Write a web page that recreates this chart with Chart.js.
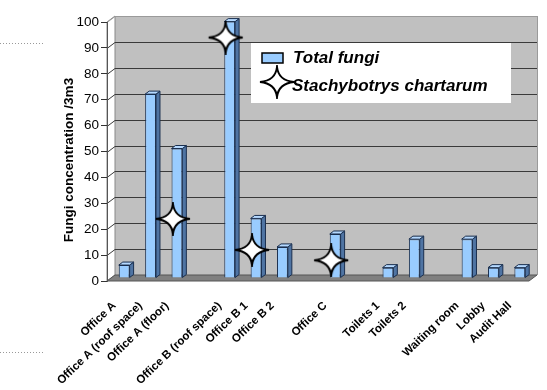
<!DOCTYPE html>
<html>
<head>
<meta charset="utf-8">
<script src="https://cdn.jsdelivr.net/npm/chart.js@4.4.0/dist/chart.umd.min.js"></script>
<style>
html, body { margin: 0; padding: 0; background: #fff; }
#wrap { position: relative; width: 547px; height: 390px; }
</style>
</head>
<body>
<div id="wrap"><canvas id="fungiChart"></canvas></div>
<script>
// sample points (blank entries are the gaps between buildings)
const locations = ['Office A', 'Office A (roof space)', 'Office A (floor)', '',
    'Office B (roof space)', 'Office B 1', 'Office B 2', '', 'Office C', '',
    'Toilets 1', 'Toilets 2', '', 'Waiting room', 'Lobby', 'Audit Hall'];
const totalFungi = [5, 71, 50, null, 99, 23, 12, null, 17, null, 4, 15, null, 15, 4, 4];
const stachybotrys = [null, null, 24, null, 94, 12, null, null, 8, null, null, null, null, null, null, null];
const yTicks = [0, 10, 20, 30, 40, 50, 60, 70, 80, 90, 100];
const seriesNames = ['Total fungi', 'Stachybotrys chartarum'];
const yTitle = 'Fungi concentration /3m3';

// 3D look
const WALL_DX = 8, WALL_DY = 6;   // back wall offset from front plane
const BAR_DX = 4, BAR_DY = 3;     // bars sit half way back
const FACE = 4;                    // bar depth

const FONT = '"Liberation Sans", Arial, sans-serif';

function makeStar(w, h) {
    const c = document.createElement('canvas');
    c.width = w; c.height = h;
    const g = c.getContext('2d');
    const cx = w / 2, cy = h / 2, rx = w / 2 - 2, ry = h / 2 - 2, k = 1.5;
    g.beginPath();
    g.moveTo(cx, cy - ry);
    g.quadraticCurveTo(cx + k, cy - k, cx + rx, cy);
    g.quadraticCurveTo(cx + k, cy + k, cx, cy + ry);
    g.quadraticCurveTo(cx - k, cy + k, cx - rx, cy);
    g.quadraticCurveTo(cx - k, cy - k, cx, cy - ry);
    g.closePath();
    g.fillStyle = '#fff';
    g.fill();
    g.lineWidth = 2;
    g.strokeStyle = '#000';
    g.stroke();
    return c;
}
const starImg = makeStar(38, 34);

// walls, floor and gridlines
const roomPlugin = {
    id: 'room',
    beforeDraw(chart) {
        const { ctx, chartArea: a, scales } = chart;
        const y = scales.y;
        ctx.save();
        // stray dotted lines at the left
        ctx.strokeStyle = '#999';
        ctx.lineWidth = 1;
        ctx.setLineDash([1, 2]);
        ctx.beginPath();
        ctx.moveTo(0, 43.5); ctx.lineTo(45, 43.5);
        ctx.moveTo(0, 352.5); ctx.lineTo(45, 352.5);
        ctx.stroke();
        ctx.setLineDash([]);

        // back wall
        ctx.fillStyle = '#c0c0c0';
        ctx.fillRect(a.left + WALL_DX, a.top - WALL_DY, a.right - a.left, a.bottom - a.top);
        // left side wall
        ctx.fillStyle = '#fff';
        ctx.beginPath();
        ctx.moveTo(a.left, a.top);
        ctx.lineTo(a.left + WALL_DX, a.top - WALL_DY);
        ctx.lineTo(a.left + WALL_DX, a.bottom - WALL_DY);
        ctx.lineTo(a.left, a.bottom);
        ctx.closePath();
        ctx.fill();
        ctx.strokeStyle = '#888';
        ctx.stroke();
        // floor
        ctx.fillStyle = '#808080';
        ctx.beginPath();
        ctx.moveTo(a.left, a.bottom);
        ctx.lineTo(a.left + WALL_DX, a.bottom - WALL_DY);
        ctx.lineTo(a.right + WALL_DX, a.bottom - WALL_DY);
        ctx.lineTo(a.right, a.bottom);
        ctx.closePath();
        ctx.fill();
        ctx.strokeStyle = '#555';
        ctx.stroke();

        // gridlines on the back wall
        yTicks.forEach(v => {
            if (v === 0) return;
            const py = Math.round(y.getPixelForValue(v)) + 0.5;
            ctx.strokeStyle = v === 100 ? '#9a9a9a' : '#3a3a3a';
            ctx.beginPath();
            ctx.moveTo(a.left, py);
            ctx.lineTo(a.left + WALL_DX, py - WALL_DY);
            ctx.lineTo(a.right + WALL_DX, py - WALL_DY);
            ctx.stroke();
        });
        // right edge of wall
        ctx.strokeStyle = '#9a9a9a';
        ctx.beginPath();
        ctx.moveTo(a.right + WALL_DX + 0.5, a.top - WALL_DY);
        ctx.lineTo(a.right + WALL_DX + 0.5, a.bottom - WALL_DY);
        ctx.stroke();

        // y axis title
        ctx.fillStyle = '#000';
        ctx.font = 'bold 13.5px ' + FONT;
        ctx.textAlign = 'center';
        ctx.textBaseline = 'middle';
        ctx.translate(69, 160);
        ctx.rotate(-Math.PI / 2);
        ctx.fillText(yTitle, 0, 0);
        ctx.restore();
    },
    beforeDatasetDraw(chart, args) {
        if (args.index !== 0) return;
        chart.ctx.save();
        chart.ctx.translate(BAR_DX, -BAR_DY);
    },
    afterDatasetDraw(chart, args) {
        if (args.index !== 0) return;
        const ctx = chart.ctx;
        args.meta.data.forEach((bar, i) => {
            if (totalFungi[i] == null) return;
            const { x, y, base, width } = bar.getProps(['x', 'y', 'base', 'width'], true);
            const l = x - width / 2, r = x + width / 2;
            ctx.lineWidth = 1;
            ctx.strokeStyle = '#1a2f4f';
            // side
            ctx.fillStyle = '#4f74a3';
            ctx.beginPath();
            ctx.moveTo(r, y);
            ctx.lineTo(r + FACE, y - FACE + 1);
            ctx.lineTo(r + FACE, base - FACE + 1);
            ctx.lineTo(r, base);
            ctx.closePath();
            ctx.fill();
            ctx.stroke();
            // top
            ctx.fillStyle = '#b5d9ff';
            ctx.beginPath();
            ctx.moveTo(l, y);
            ctx.lineTo(l + FACE, y - FACE + 1);
            ctx.lineTo(r + FACE, y - FACE + 1);
            ctx.lineTo(r, y);
            ctx.closePath();
            ctx.fill();
            ctx.stroke();
        });
        ctx.restore();
    },
    afterDatasetsDraw(chart) {
        const ctx = chart.ctx;
        ctx.save();
        // legend box
        ctx.fillStyle = '#fff';
        ctx.fillRect(251, 43, 260, 60);
        ctx.fillStyle = '#99ccff';
        ctx.strokeStyle = '#000';
        ctx.lineWidth = 1.5;
        ctx.fillRect(262, 53, 21, 10);
        ctx.strokeRect(262, 53, 21, 10);
        ctx.drawImage(starImg, 277 - 19, 82 - 17);
        ctx.fillStyle = '#000';
        ctx.font = 'italic bold 17px ' + FONT;
        ctx.textAlign = 'left';
        ctx.textBaseline = 'alphabetic';
        ctx.fillText(seriesNames[0], 293, 63);
        ctx.fillText(seriesNames[1], 292, 91);
        ctx.restore();
    }
};

const ctx = document.getElementById('fungiChart').getContext('2d');
new Chart(ctx, {
    type: 'bar',
    data: {
        labels: locations,
        datasets: [{
            label: seriesNames[0],
            data: totalFungi,
            backgroundColor: '#99ccff',
            borderColor: '#1a2f4f',
            borderWidth: 1,
            barPercentage: 1,
            categoryPercentage: 0.41,
            clip: false,
            order: 1
        }, {
            type: 'line',
            label: seriesNames[1],
            data: stachybotrys,
            showLine: false,
            pointStyle: starImg,
            pointRadius: 17,
            clip: false,
            order: 0
        }]
    },
    options: {
        responsive: true,
        maintainAspectRatio: false,
        animation: false,
        devicePixelRatio: 1,
        layout: { padding: { top: 22, right: 14, left: 0, bottom: 0 } },
        plugins: {
            legend: { display: false },
            tooltip: { enabled: false },
            title: { display: false }
        },
        scales: {
            x: {
                grid: { display: false },
                border: { display: false },
                ticks: {
                    autoSkip: false,
                    minRotation: 44,
                    maxRotation: 44,
                    padding: 10,
                    labelOffset: -6,
                    color: '#000',
                    font: { family: FONT, size: 11.5, weight: 'bold' }
                },
                afterFit(scale) { scale.height = 109; }
            },
            y: {
                min: 0,
                max: 100,
                afterBuildTicks(scale) { scale.ticks = yTicks.map(v => ({ value: v })); },
                grid: { drawOnChartArea: false, tickLength: 6, color: '#333' },
                border: { display: true, color: '#555' },
                ticks: {
                    padding: 2,
                    color: '#000',
                    font: { family: FONT, size: 13.5 }
                },
                afterFit(scale) { scale.width = 107; }
            }
        }
    },
    plugins: [roomPlugin]
});
</script>
</body>
</html>
